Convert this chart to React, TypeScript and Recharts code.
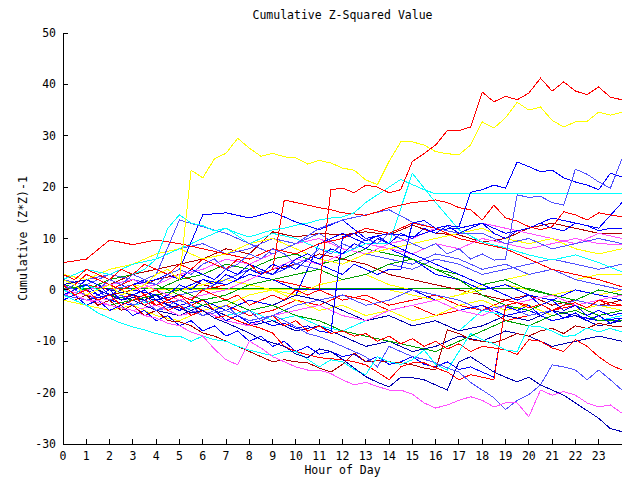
import React from "react";
import { LineChart, Line, XAxis, YAxis } from "recharts";

const FONT = "'DejaVu Sans Mono', monospace";

const hourTicks = [0, 1, 2, 3, 4, 5, 6, 7, 8, 9, 10, 11, 12, 13, 14, 15, 16, 17, 18, 19, 20, 21, 22, 23];
const valueTicks = [-30, -20, -10, 0, 10, 20, 30, 40, 50];

// half-hourly readings, 0h .. 24h (49 values)
const redTop = [1, -1, 0, -2, -1, -3, -2, -1, -3, -2, -1, -2, 0, -1, -2, -1, -3, -2, -1, -2, 0, -1, 0, 19.5, 19.8, 18.9, 20.4, 20, 18.9, 19.5, 25, 26.5, 28.2, 31, 31, 31.7, 38.5, 36.6, 37.7, 37, 38.3, 41.2, 38.7, 40.5, 38.7, 38, 39.5, 37.5, 37];
const yellowTop = [2, 1, -1, 0, 1, -1, 0, 1, 3, 4, 2, 23.3, 21.8, 25.5, 26.6, 29.5, 27.6, 26, 26.6, 25.9, 25.7, 24.5, 25.2, 24.7, 23.7, 23.3, 21.4, 20.5, 25, 28.8, 28.8, 28.2, 26.9, 26.5, 26.3, 28.2, 32.7, 31.5, 33.5, 36.5, 35, 35.6, 33, 31.7, 32.7, 32.8, 34.6, 34, 34.6];
const medBlueHigh = [0, 1, -1, 0, 2, 1, 3, 2, 1, 3, 4, 3, 5, 6, 4, 5, 7, 6, 8, 7, 5, 6, 8, 7, 9, 8, 10, 9, 11, 10, 9, 8, 9, 7, 8, 6, 7, 5.8, 6, 18.5, 18, 18.2, 17, 16.5, 23.5, 22.5, 21, 19.8, 25.5];
const blueHigh = [-1, 0, 1, -1, 0, -2, -1, 0, -2, -1, 1, 0, 2, 1, 3, 2, 4, 3, 5, 4, 6, 7, 6, 8, 7, 9, 8, 10, 9, 11, 10, 12, 11, 12.5, 12.3, 19, 19.5, 20.4, 19.8, 24.9, 24, 23, 23.3, 21.8, 21, 20.4, 19.5, 22.7, 22];
const cyanFlat = [0, -1, 1, 0, 2, 1, 3, 4, 6, 12, 14.6, 13, 12.5, 11.5, 12, 11, 10.3, 11, 11.7, 12, 12.6, 13, 13.6, 14, 14.2, 15, 17, 18.5, 20, 21.5, 20.5, 19.5, 18.7, 18.7, 18.7, 18.7, 18.7, 18.7, 18.7, 18.7, 18.7, 18.7, 18.7, 18.7, 18.7, 18.7, 18.7, 18.7, 18.7];
const redHigh = [3, 2, 4, 3, 2, 4, 3, 5, 4, 3, 5, 4, 6, 5, 4, 6, 5, 3, 4, 17.5, 17, 16.5, 16, 15.6, 15, 14.8, 14.5, 15.2, 16, 16.5, 17, 17.2, 17.5, 17, 16, 15.6, 13.6, 16.5, 14, 13.4, 12.3, 11.7, 12.3, 15.2, 14.6, 13.6, 15, 14.6, 14.2];
const cyanLow = [-1, -2, -3, -4.5, -5.5, -6.5, -7.2, -7.8, -8.5, -9.1, -9, -10, -9, -9.7, -10, -11, -11.7, -12.3, -12.8, -12, -12, -13.5, -15, -13.6, -14, -15.5, -16.5, -13, -14, -14.5, -13.6, -11.7, -14.5, -15.6, -12, -8.5, -9.7, -10.5, -11.7, -12, -7, -7.2, -8, -9.1, -8.8, -7.4, -8.2, -7.5, -8.2];
const magentaLow = [0, -1, -2, -2, -3, -3.5, -4, -5, -5.5, -6.5, -7, -8.2, -9, -11.5, -13.6, -14.6, -10, -11.3, -13, -14, -15, -15.6, -15.6, -16.3, -17.5, -18.5, -18, -18.8, -19.5, -19.5, -20.3, -22, -23, -22.4, -21.5, -20.8, -21.5, -22.8, -22, -22, -24.7, -19.5, -20.5, -19.8, -20.5, -22, -22.8, -22.4, -24];
const darkBlueLow = [0, 1, -1, 0, -1, -2, -1.5, -2, -1, -3, -3.5, -4.5, -4, -5.5, -6.4, -7.4, -8.4, -9.7, -10.3, -11, -12.5, -13.2, -11.5, -12, -13.5, -15.2, -16.9, -18, -18.9, -17, -17.1, -17.5, -18.5, -19.5, -14, -13, -14.5, -16, -17, -17.9, -17, -18.5, -19.5, -20.5, -22, -23.5, -25, -27, -27.6];
const redDip = [0, -1, 1, 0, -1, -2, -1, -3, -2, -4, -3, -5, -4, -5.5, -5, -6, -6.8, -7.5, -8.4, -11, -12, -12.6, -13.2, -13.4, -13.6, -14, -14.6, -16, -17.5, -15, -14.2, -14.2, -15.2, -16, -17.5, -16.5, -17, -17.5, -3, -2.5, -3.5, -2.8, -4, -3, -2.5, -3.5, -2, -3, -3];
const redLow = [2, 1, 3, 2, 1, 0, 1, -1, 0, -2, -1, -3, -2, -4, -3, -5, -4, -6, -5, -7, -6, -8, -7, -8.5, -8, -9, -8.5, -10, -9, -10.5, -9.5, -11, -10, -11.5, -10.5, -12, -11, -11.3, -11.7, -12.6, -9.7, -10, -11.3, -12, -9.7, -11, -13, -14.6, -15.6];
const medBlueLow = [1, 0, -1, 0, -2, -1, -3, -2, -4, -3, -2, -3, -5, -4, -3, -5, -4, -6, -4.9, -6, -7.2, -8.5, -9.1, -10, -11, -12, -13, -15, -11, -12, -13, -13.5, -14.2, -15.2, -16, -18, -19.5, -21, -23.3, -21.5, -20.4, -18.5, -14.6, -15, -15.6, -17.5, -15.6, -17.5, -19.5];
const darkRedDip = [-1, -2, -1, -3, -2, -4, -3, -5, -4, -6, -6.2, -7, -8.4, -9, -10, -11, -12, -13, -14, -13.6, -14, -14.2, -15.2, -16, -14.5, -12.3, -14, -13.8, -14, -14.2, -14.6, -15.2, -15.6, -7.8, -8.5, -9.7, -10, -10.3, -9.5, -8.5, -9, -8, -7.5, -8.5, -7, -7.5, -6.5, -7, -7.2];
const blueJumpNoon = [0, -1, 1, 0, -1, -2, -1, -3, -2, -3, -4, -3, -5, -4, -6, -5, -6.5, -6, -7, -6.5, -7.5, -7, -8, -8.4, 10.3, 11, 9.5, 10.5, 9, 8, 7, 6, 5, 4, 3, 2, 1, 0, -1, -2, -1, -3, -2, -4, -3, -5, -4, -5, -4.5];
const blueJumpAfternoon = [1, 0, 2, 1, -1, 0, 1, 2, 1, 3, 2, 4, 3, 2, 4, 3, 5, 4, 3, 5, 4, 6, 5, 4, 3, 5, 4, 3, 4, 3.9, 13, 13.5, 12, 12.5, 11, 12, 13, 11, 10, 11.5, 12, 13, 12, 11.5, 13, 12.5, 11.5, 12, 12];
const blueJumpEvening = [-2, -1, -3, -2, -4, -3, -5, -4, -6, -5, -7, -6, -8, -7, -9, -8, -10, -9, -11, -10, -12, -11, -12.5, -12, -13, -12.5, -14, -13, -14.5, -14, -13, -14.5, -15, -14, -15.5, -15, -16, -17, -3.3, -4, -3, -5, -4, -5.5, -4.5, -6, -5, -6.5, -5.5];

// hourly readings, 0h .. 24h (25 values)
const greenFlat = [0.3, 0.3, 0.3, 0.3, 0.3, 0.3, 0.3, 0.3, 0.3, 0.3, 0.3, 0.3, 0.3, 0.3, 0.3, 0.3, 0.3, 0.3, 0.3, 0.3, 0.3, -1, -2, -3, -2];
const redA = [5.3, 6, 9.7, 8.8, 9.7, 9, 8, 7, 6, 8, 7, 9, 10, 12, 11, 13, 12, 10, 9, 8, 6, 4, 3, 2, 0.6];
const redB = [0, -1, -2, -1, -3, -2, -4, -3, -5, -4, -2, -3, -1, -2, -4, -3, -5, -4, -3, -6, -5, -4, -3, -2, -3];
const redC = [-1, 1, 0, 2, 1, -1, 0, 1, 3, 2, 1, 0, -2, -1, -3, -2, -1, -3, -4, -2, -3, -5, -4, -6, -5];
const darkRedA = [0, -1, 1, 3, 4, 5, 6, 8, 7, 11.3, 10.3, 11, 10.7, 11.3, 10.7, 12.6, 11, 10.7, 9.3, 10, 12, 13, 12, 11, 11];
const darkRedB = [-1, -2, -1, 0, 2, 3, 1, 0, 2, 4, 5, 7, 6, 5, 3, 2, 1, 0, -1, -2, -1, -3, -2, -3, -2];
const yellowA = [3, 2, 4, 5, 7, 8, 6, 7, 9, 10, 8, 6, 5, 7, 8, 9, 10, 11, 12, 10, 9, 10, 8, 7, 8];
const yellowB = [-1, 0, 1, -1, -2, 0, 1, 2, 1, 0, -1, 1, 2, 3, 1, 0, -2, -1, 1, 2, 3, 4, 2, 3, 3];
const yellowC = [1, 2, 0, 1, 0, 0, 0, 0, 0, 0, 0, 0, 0, 0, 0, -1, -2, -1, 0, 1, 0, -1, 0, -1, 0];
const yellowD = [-2, -3, -4, -3, -5, -6, -4, -3, -1, 0, -2, -4, -3, -5, -4, -6, -5, -3, -2, -4, -3, -5, -4, -3, -4];
const cyanA = [2, 4, 3, 5, 6, 8, 10, 12, 9, 11, 10, 8, 7, 9, 9, 22.7, 17, 11.7, 9.3, 8.2, 6.8, 5.8, 6.8, 5.3, 3.5];
const cyanB = [0, -1, -2, -3, -2, -4, -3, -5, -4, -6, -5, -7, -8, -6, -5, -7, -6, -8, -4, -5, -6, -4, -5, -6, -5];
const blueA = [0, -2, -1, 1, 2, 4, 14.6, 15, 14, 15.2, 13.2, 11.7, 13.6, 10, 11, 10.3, 11.7, 12, 13, 11, 12, 14, 13, 12, 17];
const blueB = [-1, 0, -2, -3, -1, 0, 2, 1, 3, 2, 0, 0, 0, 0, 0, 0, -2, -4, -3, -5, -4, -6, -5, -6, -5.5];
const blueC = [1, 0, 2, 0, -1, -3, -2, -4, -2, -3, -1, 9, 11, 9, 8, 6, 3, 2, 0, 1, -1, -2, 0, -1, -2];
const medBlueA = [-1, -2, 0, 1, 3, 13.6, 12.3, 11, 9, 7, 9, 12, 13.6, 14.6, 15.6, 13.2, 12, 11, 11, 9, 10, 8, 9, 10, 9];
const medBlueB = [0, 1, -1, -2, -4, -3, -5, -4, -6, -5, -3, -2, -1, -3, -2, 0, -1, -2, -4, -3, -5, -4, -2, -3, -3];
const medBlueC = [2, 1, 3, 2, 1, -1, 0, 2, 4, 3, 5, 4, 2, 3, 5, 4, 6, 5, 3, 4, 5, 6, 5, 4, 5];
const medBlueD = [1, 2, 3, 5, 6, 8, 9, 7, 8, 10, 9, 11, 8, 7, 6, 5, 7, 6, 4, 5, 3, 4, 2, 1, 0];
const darkBlueA = [0, -1, -3, -2, -4, -5, -3, -2, -4, -3, -1, -2, -4, -6, -5, -7, -6, -8, -7, -5, -6, -4, -5, -7, -6];
const darkBlueB = [1, 2, 0, -1, -2, -1, -3, -5, -7, -6, -8, -7, -9, -11, -10, -12, -11, -9, -10, -8, -9, -11, -10, -9, -10];
const greenA = [0, 1, -1, -2, 0, 2, 3, 5, 4, 6, 7, 5, 6, 8, 7, 6, 4, 3, 1, 2, 0, -1, -2, 0, -1];
const greenB = [-1, -2, -3, -2, -1, 0, -2, -1, 1, 2, 3, 4, 2, 3, 5, 6, 4, 2, -1, -3, -4, -2, -3, -5, -4];
const greenC = [1, 0, 2, 3, 1, -1, -3, -2, -4, -3, -5, -6, -8, -9, -10, -11, -12, -10, -8, -6, -7, -5, -4, -6, -6];
const magentaA = [0, -1, -2, 0, 1, 3, 4, 6, 5, 7, 9, 10, 8, 7, 9, 10, 12, 11, 13, 12, 11, 10, 9, 11, 10];
const magentaB = [-1, 0, 1, 2, 0, -2, -1, 0, 2, 4, 6, 5, 7, 9, 8, 7, 9, 8, 10, 9, 8, 9, 10, 9, 8.8];
const magentaC = [0, -2, -3, -4, -3, -5, -4, -6, -7, -5, -4, -3, -5, -6, -4, -3, -2, -4, -5, -3, -2, -1, -3, -2, -1];

const RED = "#ff0000";
const DARK_RED = "#b00000";
const YELLOW = "#ffff00";
const CYAN = "#00ffff";
const BLUE = "#0000ff";
const MED_BLUE = "#5050ff";
const DARK_BLUE = "#0000b0";
const GREEN = "#00a000";
const MAGENTA = "#ff50ff";

const series = [
  { key: "greenFlat", color: GREEN, values: greenFlat },
  { key: "redB", color: RED, values: redB },
  { key: "redC", color: RED, values: redC },
  { key: "darkRedA", color: DARK_RED, values: darkRedA },
  { key: "darkRedB", color: DARK_RED, values: darkRedB },
  { key: "yellowB", color: YELLOW, values: yellowB },
  { key: "yellowC", color: YELLOW, values: yellowC },
  { key: "yellowD", color: YELLOW, values: yellowD },
  { key: "cyanB", color: CYAN, values: cyanB },
  { key: "blueB", color: BLUE, values: blueB },
  { key: "blueC", color: BLUE, values: blueC },
  { key: "medBlueB", color: MED_BLUE, values: medBlueB },
  { key: "medBlueC", color: MED_BLUE, values: medBlueC },
  { key: "medBlueD", color: MED_BLUE, values: medBlueD },
  { key: "darkBlueA", color: DARK_BLUE, values: darkBlueA },
  { key: "darkBlueB", color: DARK_BLUE, values: darkBlueB },
  { key: "greenA", color: GREEN, values: greenA },
  { key: "greenB", color: GREEN, values: greenB },
  { key: "greenC", color: GREEN, values: greenC },
  { key: "magentaA", color: MAGENTA, values: magentaA },
  { key: "magentaB", color: MAGENTA, values: magentaB },
  { key: "magentaC", color: MAGENTA, values: magentaC },
  { key: "yellowA", color: YELLOW, values: yellowA },
  { key: "cyanA", color: CYAN, values: cyanA },
  { key: "blueA", color: BLUE, values: blueA },
  { key: "medBlueA", color: MED_BLUE, values: medBlueA },
  { key: "redA", color: RED, values: redA },
  { key: "blueJumpNoon", color: BLUE, values: blueJumpNoon },
  { key: "blueJumpAfternoon", color: BLUE, values: blueJumpAfternoon },
  { key: "blueJumpEvening", color: BLUE, values: blueJumpEvening },
  { key: "darkRedDip", color: DARK_RED, values: darkRedDip },
  { key: "redLow", color: RED, values: redLow },
  { key: "redDip", color: RED, values: redDip },
  { key: "medBlueLow", color: MED_BLUE, values: medBlueLow },
  { key: "cyanLow", color: CYAN, values: cyanLow },
  { key: "magentaLow", color: MAGENTA, values: magentaLow },
  { key: "darkBlueLow", color: DARK_BLUE, values: darkBlueLow },
  { key: "redHigh", color: RED, values: redHigh },
  { key: "cyanFlat", color: CYAN, values: cyanFlat },
  { key: "blueHigh", color: BLUE, values: blueHigh },
  { key: "medBlueHigh", color: MED_BLUE, values: medBlueHigh },
  { key: "yellowTop", color: YELLOW, values: yellowTop },
  { key: "redTop", color: RED, values: redTop },
];

const rows = Array.from({ length: 49 }, (_, i) => {
  const row: Record<string, number | null> = { h: i / 2 };
  series.forEach((s) => {
    if (s.values.length === 49) row[s.key] = s.values[i];
    else row[s.key] = i % 2 === 0 ? s.values[i / 2] : null;
  });
  return row;
});

const tickStyle = { fontSize: 11.5, fill: "#000", fontFamily: FONT };

export default function App() {
  return (
    <div
      style={{
        position: "absolute",
        left: 0,
        top: 0,
        width: 640,
        height: 480,
        background: "#fff",
        fontFamily: FONT,
        fontSize: 11.5,
        shapeRendering: "crispEdges",
      }}
    >
      <div style={{ position: "absolute", left: 63, width: 559, top: 9, lineHeight: "13px", textAlign: "center" }}>
        Cumulative Z-Squared Value
      </div>
      <div style={{ position: "absolute", left: 63, width: 559, top: 464, lineHeight: "13px", textAlign: "center" }}>
        Hour of Day
      </div>
      <div
        style={{
          position: "absolute",
          left: -77,
          top: 232,
          width: 200,
          lineHeight: "13px",
          textAlign: "center",
          transform: "rotate(-90deg)",
        }}
      >
        Cumulative (Z*Z)-1
      </div>
      <LineChart
        width={640}
        height={480}
        data={rows}
        margin={{ top: 33, right: 18, left: 13, bottom: 6 }}
        style={{ position: "absolute", left: 0, top: 0 }}
      >
        <XAxis
          xAxisId="x"
          dataKey="h"
          type="number"
          domain={[0, 24]}
          ticks={hourTicks}
          allowDataOverflow
          height={30}
          stroke="#000"
          tickSize={-5}
          tickMargin={13}
          tick={tickStyle}
          interval={0}
        />
        <XAxis
          xAxisId="top"
          orientation="top"
          dataKey="h"
          type="number"
          domain={[0, 24]}
          ticks={hourTicks}
          allowDataOverflow
          height={0}
          stroke="#000"
          tickSize={-5}
          tick={false}
          interval={0}
        />
        <YAxis
          yAxisId="y"
          type="number"
          domain={[-30, 50]}
          ticks={valueTicks}
          allowDataOverflow
          width={50}
          stroke="#000"
          tickSize={-5}
          tickMargin={12}
          tick={tickStyle}
          interval={0}
        />
        <YAxis
          yAxisId="right"
          orientation="right"
          type="number"
          domain={[-30, 50]}
          ticks={valueTicks}
          allowDataOverflow
          width={0}
          stroke="#000"
          tickSize={-5}
          tick={false}
          interval={0}
        />
        {series.map((s) => (
          <Line
            key={s.key}
            xAxisId="x"
            yAxisId="y"
            type="linear"
            dataKey={s.key}
            stroke={s.color}
            strokeWidth={1}
            dot={false}
            connectNulls
            isAnimationActive={false}
          />
        ))}
      </LineChart>
    </div>
  );
}
